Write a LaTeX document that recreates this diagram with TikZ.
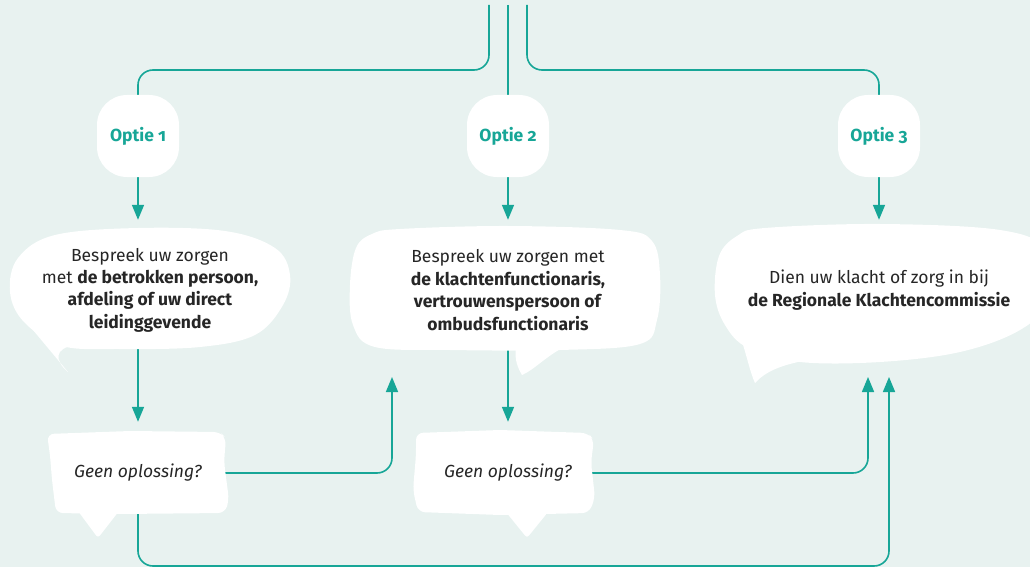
\documentclass[tikz,border=0pt]{standalone}
\usepackage{fontspec}
\setmainfont{Fira Sans}
\newfontfamily\optiefont[Numbers=OldStyle]{Fira Sans}
\usepackage{tikz}
\usetikzlibrary{arrows.meta}
\definecolor{flowteal}{HTML}{17A697}
\definecolor{mint}{HTML}{E8F2F0}
\definecolor{ink}{HTML}{262626}
\pgfdeclarelayer{bg}
\pgfdeclarelayer{lines}
\pgfdeclarelayer{blobs}
\pgfsetlayers{bg,lines,blobs,main}
\tikzset{
  optie/.style={rectangle, rounded corners=30pt, fill=white, minimum size=82pt, inner sep=0pt, text=flowteal, font=\optiefont\fontsize{17.5}{20}\selectfont\bfseries},
  bubble/.style={align=center, minimum height=140pt, text=ink, font=\fontsize{17.5}{22.4}\selectfont},
  nosol/.style={minimum height=102pt, text=ink, font=\fontsize{17.5}{20}\selectfont\itshape},
  link/.style={draw=flowteal, line width=1.6pt, rounded corners=15pt},
  arrow/.style={link, -{Triangle[length=15pt,width=12pt]}},
  blob/.style={fill=white}
}

\begin{document}
\begin{tikzpicture}[x=1pt,y=-1pt]
  \begin{pgfonlayer}{bg}
    \fill[mint] (0,0) rectangle (1030,567);
  \end{pgfonlayer}
  \useasboundingbox (0,0) rectangle (1030,567);

  % options
  \node[optie] (o1) at (138,136) {Optie 1};
  \node[optie] (o2) at (508,136) {Optie 2};
  \node[optie] (o3) at (879,136) {Optie 3};

  % speech bubbles
  \node[bubble] (b1) at (150,290) {Bespreek uw zorgen\\ met \textbf{de betrokken persoon,}\\ \textbf{afdeling of uw direct}\\ \textbf{leidinggevende}};
  \node[bubble] (b2) at (508,290) {Bespreek uw zorgen met\\ \textbf{de klachtenfunctionaris,}\\ \textbf{vertrouwenspersoon of}\\ \textbf{ombudsfunctionaris}};
  \node[bubble] (b3) at (879,290) {Dien uw klacht of zorg in bij\\ \textbf{de Regionale Klachtencommissie}};

  \node[nosol] (g1) at (138,473) {Geen oplossing?};
  \node[nosol] (g2) at (508,473) {Geen oplossing?};

  \coordinate (in1) at (489,5);
  \coordinate (in2) at (508,5);
  \coordinate (in3) at (527,5);
  \coordinate (up2) at (392,377);
  \coordinate (up3a) at (868,377);
  \coordinate (up3b) at (889,377);

  \begin{pgfonlayer}{lines}
    \draw[link] (in1) -- (489,70) -| (o1);
    \draw[link] (in2) -- (o2);
    \draw[link] (in3) -- (527,70) -| (o3);
    \draw[arrow] (o1) -- (o1 |- b1.north);
    \draw[arrow] (o2) -- (b2.north);
    \draw[arrow] (o3) -- (b3.north);
    \draw[arrow] (o1 |- b1.center) -- (g1.north);
    \draw[arrow] (b2.center) -- (g2.north);
    \draw[arrow] (g1.center) -| (up2);
    \draw[arrow] (g2.center) -| (up3a);
    \draw[arrow] (g1.center) |- (889,566) -- (up3b);
  \end{pgfonlayer}

  \begin{pgfonlayer}{blobs}
    % bubble 1
    \fill[blob] plot[smooth cycle, tension=0.6] coordinates {(138,228) (225,231) (275,248) (290,275) (283,305) (255,335) (200,347) (120,349) (62,346) (24,322) (10,292) (18,258) (55,235)};
    \fill[blob] (18,312) -- (68,372) .. controls (55,361) and (53,348) .. (76,345) -- (40,320) -- cycle;
    % bubble 2
    \fill[blob] plot[smooth cycle, tension=0.6] coordinates {(400,229) (508,226) (620,230) (652,241) (660,275) (657,320) (640,344) (560,350) (450,350) (375,347) (353,325) (350,285) (356,248) (372,234)};
    \fill[blob] (516,346) .. controls (514,360) and (518,368) .. (522,375) .. controls (534,370) and (546,356) .. (566,346) -- cycle;
    % bubble 3
    \fill[blob] plot[smooth cycle, tension=0.6] coordinates {(765,228) (880,224) (1000,230) (1045,250) (1048,300) (1020,330) (960,352) (880,362) (800,362) (748,348) (725,325) (715,295) (719,256) (737,236)};
    \fill[blob] (740,335) .. controls (748,360) and (750,372) .. (755,383) .. controls (765,372) and (780,365) .. (808,360) -- cycle;
    % no solution 1
    \fill[blob, rounded corners=7pt] (47,434) -- (130,431) -- (220,432) -- (226,438) -- (224,462) -- (229,500) -- (225,513) -- (120,514) -- (56,513) -- (52,480) -- (50,455) -- cycle;
    \fill[blob, rounded corners=3pt] (78,511) -- (98,538) -- (119,511) -- cycle;
    % no solution 2
    \fill[blob, rounded corners=7pt] (416,433) -- (500,430) -- (588,433) -- (594,440) -- (591,462) -- (595,498) -- (589,513) -- (500,515) -- (418,512) -- (413,490) -- (416,455) -- cycle;
    \fill[blob, rounded corners=3pt] (506,512) -- (527,538) -- (548,512) -- cycle;
  \end{pgfonlayer}
\end{tikzpicture}
\end{document}
